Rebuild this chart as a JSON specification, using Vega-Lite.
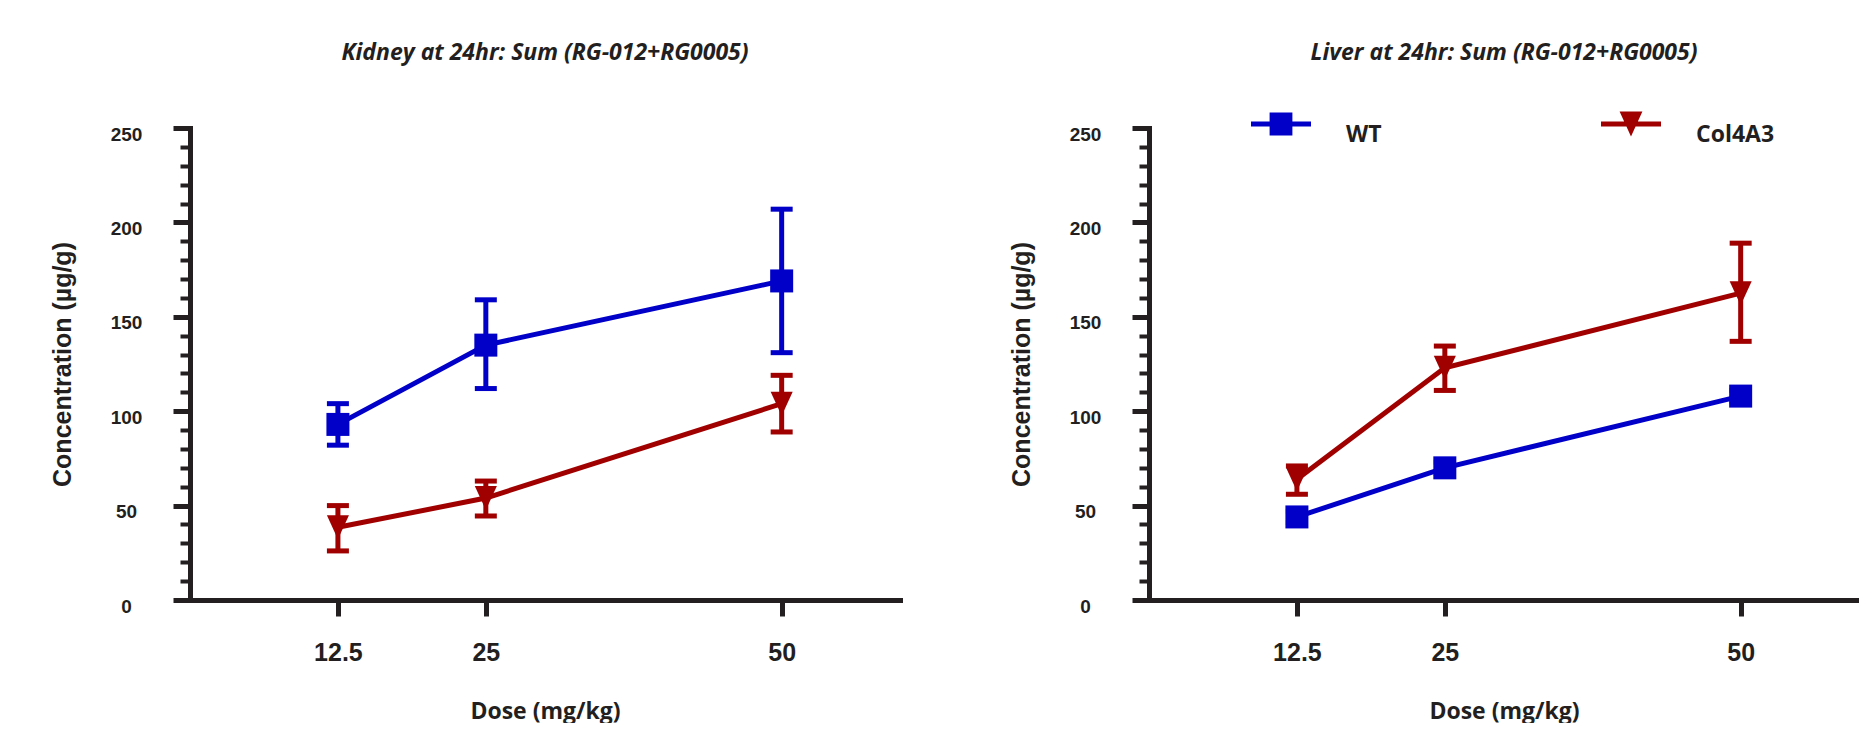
{
  "$schema": "https://vega.github.io/schema/vega-lite/v6.json",
  "background": "white",
  "padding": {"left": 50, "top": 42, "right": 0, "bottom": 0},
  "bounds": "flush",
  "spacing": 249,
  "resolve": {"scale": {"color": "independent", "shape": "independent", "fill": "independent", "stroke": "independent"}, "legend": {"color": "independent", "shape": "independent"}},
  "config": {
    "view": {"stroke": null},
    "axis": {
      "grid": false,
      "domainColor": "#231F20",
      "domainWidth": 5,
      "domainCap": "square",
      "tickColor": "#231F20",
      "labelColor": "#231F20",
      "titleColor": "#231F20",
      "labelFlush": false,
      "labelOverlap": false
    },
    "legend": {
      "direction": "horizontal", "padding": 0,
      "symbolSize": 3600, "symbolStrokeWidth": 0, "symbolOpacity": 1,
      "labelFont": "Open Sans", "labelFontWeight": "bold", "labelFontSize": 23, "labelColor": "#231F20", "labelOffset": 35, "labelBaseline": "top", "columnPadding": 219, "labelLimit": 300
    }
  },
  "datasets": {
    "rows": [
      {"organ": "Kidney", "genotype": "WT", "dose": 12.5, "mean": 93, "lo": 82, "hi": 104},
      {"organ": "Kidney", "genotype": "WT", "dose": 25, "mean": 135, "lo": 112, "hi": 159},
      {"organ": "Kidney", "genotype": "WT", "dose": 50, "mean": 169, "lo": 131, "hi": 207},
      {"organ": "Kidney", "genotype": "Col4A3", "dose": 12.5, "mean": 38.5, "lo": 26, "hi": 50},
      {"organ": "Kidney", "genotype": "Col4A3", "dose": 25, "mean": 54, "lo": 44.5, "hi": 63},
      {"organ": "Kidney", "genotype": "Col4A3", "dose": 50, "mean": 104, "lo": 89, "hi": 119},
      {"organ": "Liver", "genotype": "WT", "dose": 12.5, "mean": 44, "lo": 41, "hi": 47},
      {"organ": "Liver", "genotype": "WT", "dose": 25, "mean": 70, "lo": 67, "hi": 73},
      {"organ": "Liver", "genotype": "WT", "dose": 50, "mean": 108, "lo": 105, "hi": 111},
      {"organ": "Liver", "genotype": "Col4A3", "dose": 12.5, "mean": 64, "lo": 56, "hi": 71},
      {"organ": "Liver", "genotype": "Col4A3", "dose": 25, "mean": 123, "lo": 111, "hi": 134.5},
      {"organ": "Liver", "genotype": "Col4A3", "dose": 50, "mean": 162.5, "lo": 137, "hi": 189}
    ]
  },
  "hconcat": [
    {
      "width": 710,
      "height": 472,
      "title": {"text": "Kidney at 24hr: Sum (RG-012+RG0005)", "frame": "group", "anchor": "middle", "font": "Open Sans", "fontStyle": "italic", "fontWeight": "bold", "fontSize": 23, "color": "#231F20", "offset": 60},
      "data": {"name": "rows"},
      "transform": [{"filter": "datum.organ === 'Kidney'"}],
      "encoding": {
        "x": {"field": "dose", "type": "quantitative", "scale": {"domain": [0, 60], "nice": false, "zero": true},
          "axis": {"values": [12.5, 25, 50], "format": ".1~f", "tickSize": 16, "tickWidth": 5, "labelFont": "Liberation Sans", "labelFontWeight": "bold", "labelFontSize": 25, "labelPadding": 24, "title": "Dose (mg/kg)", "titleFont": "Open Sans", "titleFontWeight": "bold", "titleFontSize": 23, "titlePadding": 35}}
      },
      "layer": [
        {"mark": {"type": "rule", "strokeWidth": 5},
         "encoding": {
           "y": {"field": "lo", "type": "quantitative", "scale": {"domain": [0, 250], "nice": false},
             "axis": {"values": [0,10,20,30,40,50,60,70,80,90,100,110,120,130,140,150,160,170,180,190,200,210,220,230,240,250], "tickCount": 40, "format": "d",
               "tickSize": {"condition": {"test": "datum.value % 50 === 0", "value": 17}, "value": 10},
               "tickWidth": {"condition": {"test": "datum.value % 50 === 0", "value": 5}, "value": 4},
               "labelExpr": "datum.value % 50 === 0 ? datum.label : ''",
               "labelFont": "Liberation Sans", "labelFontWeight": "bold", "labelFontSize": 19, "labelAlign": "center", "labelPadding": 47, "labelOffset": 6,
               "title": "Concentration (µg/g)", "titleFont": "Liberation Sans", "titleFontWeight": "bold", "titleFontSize": 25, "titlePadding": 35}},
           "y2": {"field": "hi"},
           "stroke": {"field": "genotype", "type": "nominal", "scale": {"domain": ["Col4A3", "WT"], "range": ["#A00000", "#0000C8"]}, "legend": null}
         }},
        {"mark": {"type": "tick", "orient": "horizontal", "thickness": 5, "size": 22, "opacity": 1},
         "encoding": {"y": {"field": "lo", "type": "quantitative"},
           "fill": {"field": "genotype", "type": "nominal", "scale": {"domain": ["Col4A3", "WT"], "range": ["#A00000", "#0000C8"]}, "legend": null}}},
        {"mark": {"type": "tick", "orient": "horizontal", "thickness": 5, "size": 22, "opacity": 1},
         "encoding": {"y": {"field": "hi", "type": "quantitative"},
           "fill": {"field": "genotype", "type": "nominal", "scale": {"domain": ["Col4A3", "WT"], "range": ["#A00000", "#0000C8"]}, "legend": null}}},
        {"mark": {"type": "line", "strokeWidth": 5},
         "encoding": {"y": {"field": "mean", "type": "quantitative"},
           "stroke": {"field": "genotype", "type": "nominal", "scale": {"domain": ["Col4A3", "WT"], "range": ["#A00000", "#0000C8"]}, "legend": null}}},
        {"transform": [{"filter": "datum.genotype === 'WT'"}],
         "mark": {"type": "point", "filled": true, "opacity": 1, "shape": "square", "size": 529, "color": "#0000C8"},
         "encoding": {"y": {"field": "mean", "type": "quantitative"}}},
        {"transform": [{"filter": "datum.genotype === 'Col4A3'"}],
         "mark": {"type": "point", "filled": true, "opacity": 1, "shape": "M-0.92,-1L0.92,-1L0,1Z", "size": 576, "color": "#A00000"},
         "encoding": {"y": {"field": "mean", "type": "quantitative"}}}
      ]
    },
    {
      "width": 710,
      "height": 472,
      "title": {"text": "Liver at 24hr: Sum (RG-012+RG0005)", "frame": "group", "anchor": "middle", "font": "Open Sans", "fontStyle": "italic", "fontWeight": "bold", "fontSize": 23, "color": "#231F20", "offset": 29},
      "data": {"name": "rows"},
      "transform": [{"filter": "datum.organ === 'Liver'"}],
      "encoding": {
        "x": {"field": "dose", "type": "quantitative", "scale": {"domain": [0, 60], "nice": false, "zero": true},
          "axis": {"values": [12.5, 25, 50], "format": ".1~f", "tickSize": 16, "tickWidth": 5, "labelFont": "Liberation Sans", "labelFontWeight": "bold", "labelFontSize": 25, "labelPadding": 24, "title": "Dose (mg/kg)", "titleFont": "Open Sans", "titleFontWeight": "bold", "titleFontSize": 23, "titlePadding": 35}}
      },
      "layer": [
        {"mark": {"type": "rule", "strokeWidth": 5},
         "encoding": {
           "y": {"field": "lo", "type": "quantitative", "scale": {"domain": [0, 250], "nice": false},
             "axis": {"values": [0,10,20,30,40,50,60,70,80,90,100,110,120,130,140,150,160,170,180,190,200,210,220,230,240,250], "tickCount": 40, "format": "d",
               "tickSize": {"condition": {"test": "datum.value % 50 === 0", "value": 17}, "value": 10},
               "tickWidth": {"condition": {"test": "datum.value % 50 === 0", "value": 5}, "value": 4},
               "labelExpr": "datum.value % 50 === 0 ? datum.label : ''",
               "labelFont": "Liberation Sans", "labelFontWeight": "bold", "labelFontSize": 19, "labelAlign": "center", "labelPadding": 47, "labelOffset": 6,
               "title": "Concentration (µg/g)", "titleFont": "Liberation Sans", "titleFontWeight": "bold", "titleFontSize": 25, "titlePadding": 35}},
           "y2": {"field": "hi"},
           "stroke": {"field": "genotype", "type": "nominal", "scale": {"domain": ["Col4A3", "WT"], "range": ["#A00000", "#0000C8"]}, "legend": null}
         }},
        {"mark": {"type": "tick", "orient": "horizontal", "thickness": 5, "size": 22, "opacity": 1},
         "encoding": {"y": {"field": "lo", "type": "quantitative"},
           "fill": {"field": "genotype", "type": "nominal", "scale": {"domain": ["Col4A3", "WT"], "range": ["#A00000", "#0000C8"]}, "legend": null}}},
        {"mark": {"type": "tick", "orient": "horizontal", "thickness": 5, "size": 22, "opacity": 1},
         "encoding": {"y": {"field": "hi", "type": "quantitative"},
           "fill": {"field": "genotype", "type": "nominal", "scale": {"domain": ["Col4A3", "WT"], "range": ["#A00000", "#0000C8"]}, "legend": null}}},
        {"mark": {"type": "line", "strokeWidth": 5},
         "encoding": {"y": {"field": "mean", "type": "quantitative"},
           "stroke": {"field": "genotype", "type": "nominal", "scale": {"domain": ["Col4A3", "WT"], "range": ["#A00000", "#0000C8"]}, "legend": null}}},
        {"transform": [{"filter": "datum.genotype === 'WT'"}],
         "mark": {"type": "point", "filled": true, "opacity": 1, "shape": "square", "size": 529, "color": "#0000C8"},
         "encoding": {"y": {"field": "mean", "type": "quantitative"}}},
        {"transform": [{"filter": "datum.genotype === 'Col4A3'"}],
         "mark": {"type": "point", "filled": true, "opacity": 1, "shape": "M-0.92,-1L0.92,-1L0,1Z", "size": 576, "color": "#A00000"},
         "encoding": {"y": {"field": "mean", "type": "quantitative"}}},
        {"mark": {"type": "point", "filled": true, "opacity": 1, "size": 0},
         "encoding": {
           "y": {"field": "mean", "type": "quantitative"},
           "color": {"field": "genotype", "type": "nominal", "scale": {"domain": ["WT", "Col4A3"], "range": ["#0000C8", "#A00000"]},
             "legend": {"title": null, "orient": "none", "legendX": 102, "legendY": -34, "direction": "horizontal"}},
           "shape": {"field": "genotype", "type": "nominal", "scale": {"domain": ["WT", "Col4A3"], "range": ["M-1,-0.08H1V0.08H-1Z M-0.38,-0.38H0.38V0.38H-0.38Z", "M-1,-0.08H1V0.08H-1Z M-0.38,-0.42L0.38,-0.42L0,0.42Z"]},
             "legend": {"title": null, "orient": "none", "legendX": 102, "legendY": -34, "direction": "horizontal"}}
         }}
      ]
    }
  ]
}
